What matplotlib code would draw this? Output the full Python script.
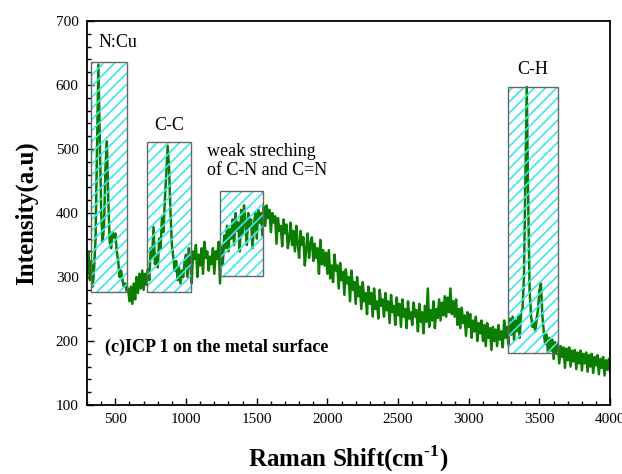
import numpy as np
import matplotlib
matplotlib.use("Agg")
import matplotlib.pyplot as plt
from matplotlib.patches import Rectangle

plt.rcParams['font.family'] = ['Liberation Serif', 'DejaVu Serif']
plt.rcParams['mathtext.fontset'] = 'custom'
plt.rcParams['mathtext.rm'] = 'Liberation Serif:bold'
plt.rcParams['mathtext.bf'] = 'Liberation Serif:bold'
plt.rcParams['hatch.linewidth'] = 1.2

shift_start, shift_stop, shift_step = 300, 4000, 10
intensity = [
    305, 340, 295, 325, 285, 315, 360, 500, 632, 520,      # 300-390
    400, 355, 380, 470, 512, 420, 355, 345, 370, 362,      # 400-490
    368, 340, 325, 300, 310, 295, 285, 290, 278, 282,      # 500-590
    262, 285, 258, 290, 265, 300, 275, 305, 282, 310,      # 600-690
    280, 305, 288, 312, 295, 345, 330, 378, 320, 335,      # 700-790
    315, 360, 345, 395, 370, 420, 460, 505, 470, 400,      # 800-890
    350, 330, 310, 325, 295, 315, 290, 310, 300, 325,      # 900-990
    335, 300, 345, 322, 290, 340, 328, 350, 300, 335,      # 1000-1090
    318, 345, 305, 355, 330, 340, 310, 332, 320, 345,      # 1100-1190
    305, 340, 328, 355, 290, 350, 320, 365, 345, 380,      # 1200-1290
    340, 375, 360, 390, 350, 400, 372, 385, 340, 405,      # 1300-1390
    365, 412, 385, 350, 400, 378, 390, 345, 380, 400,      # 1400-1490
    360, 405, 385, 400, 365, 410, 380, 412, 392, 405,      # 1500-1590
    370, 400, 385, 395, 352, 392, 372, 380, 348, 390,      # 1600-1690
    368, 382, 345, 360, 385, 350, 372, 340, 380, 352,      # 1700-1790
    330, 372, 350, 362, 318, 345, 368, 330, 352, 362,      # 1800-1890
    325, 352, 330, 345, 305, 358, 320, 342, 318, 338,      # 1900-1990
    305, 342, 298, 318, 292, 335, 310, 318, 282, 322,      # 2000-2090
    295, 308, 272, 312, 290, 300, 262, 310, 280, 292,      # 2100-2190
    258, 300, 270, 285, 250, 292, 262, 275, 242, 285,      # 2200-2290
    258, 275, 238, 282, 250, 262, 235, 280, 255, 265,      # 2300-2390
    238, 275, 248, 262, 228, 272, 245, 255, 225, 268,      # 2400-2490
    240, 258, 222, 265, 238, 250, 220, 262, 235, 245,      # 2500-2590
    225, 260, 238, 248, 215, 258, 230, 245, 212, 255,      # 2600-2690
    230, 282, 222, 248, 232, 262, 220, 250, 236, 265,      # 2700-2790
    232, 260, 240, 270, 238, 268, 245, 282, 242, 262,      # 2800-2890
    238, 265, 225, 250, 220, 252, 228, 240, 208, 245,      # 2900-2990
    222, 242, 205, 232, 215, 238, 200, 228, 212, 232,      # 3000-3090
    200, 225, 192, 228, 205, 220, 186, 222, 200, 218,      # 3100-3190
    192, 225, 202, 215, 190, 232, 205, 222, 195, 235,      # 3200-3290
    210, 238, 202, 232, 215, 240, 205, 245, 250, 300,      # 3300-3390
    450, 597, 420, 280, 240, 222, 230, 215, 235, 250,      # 3400-3490
    280, 290, 240, 215, 195, 210, 182, 205, 185, 202,      # 3500-3590
    172, 198, 180, 195, 165, 192, 175, 190, 158, 188,      # 3600-3690
    170, 190, 160, 185, 168, 186, 156, 182, 165, 185,      # 3700-3790
    154, 180, 165, 182, 152, 178, 160, 180, 150, 175,      # 3800-3890
    162, 178, 148, 172, 158, 175, 146, 170, 155, 172,      # 3900-3990
    150,                                                   # 4000
]
raman_shift = np.arange(shift_start, shift_stop + 1, shift_step)

# highlighted bands: (x0, x1, y0, y1)
band_x0 = [330, 725, 1240, 3280]
band_x1 = [580, 1035, 1545, 3630]
band_y0 = [277, 277, 302, 181]
band_y1 = [636, 511, 434, 597]

fig = plt.figure(figsize=(6.22, 4.74), dpi=100)
ax = fig.add_axes([0.140, 0.1456, 0.841, 0.810])

ax.plot(raman_shift, intensity, color='#0b7d00', lw=1.8, zorder=2)

for x0, x1, y0, y1 in zip(band_x0, band_x1, band_y0, band_y1):
    ax.add_patch(Rectangle((x0, y0), x1 - x0, y1 - y0, fill=False,
                           hatch='///', edgecolor='#3ae8f2', lw=0, zorder=3))
    ax.add_patch(Rectangle((x0, y0), x1 - x0, y1 - y0, fill=False,
                           edgecolor='#666666', lw=1.0, zorder=4))

ax.text(520, 667, 'N:Cu', fontsize=13, ha='center', va='center')
ax.text(880, 537, 'C-C', fontsize=13, ha='center', va='center')
ax.text(1150, 481, 'weak streching\nof C-N and C=N', fontsize=13,
        ha='left', va='center', linespacing=1.2)
ax.text(3450, 625, 'C-H', fontsize=13, ha='center', va='center')
ax.text(430, 190, '(c)ICP 1 on the metal surface', fontsize=13,
        fontweight='bold', ha='left', va='center')

ax.set_xlim(300, 4000)
ax.set_ylim(100, 700)
ax.set_xticks([500, 1000, 1500, 2000, 2500, 3000, 3500, 4000])
ax.set_xticks(np.arange(300, 4001, 100), minor=True)
ax.set_yticks(np.arange(100, 701, 100))
ax.set_yticks(np.arange(100, 701, 20), minor=True)
ax.tick_params(which='both', direction='in', top=False, right=False,
               labelsize=11, width=1.0, pad=6)
ax.tick_params(which='major', length=5)
ax.tick_params(which='minor', length=3)
for sp in ax.spines.values():
    sp.set_linewidth(1.3)

ax.set_xlabel(r'Raman Shift(cm$^{\text{-1}}$)', fontsize=18,
              fontweight='bold', labelpad=12)
ax.set_ylabel('Intensity(a.u)', fontsize=18, fontweight='bold', labelpad=13)

fig.savefig('out.png', dpi=100)
